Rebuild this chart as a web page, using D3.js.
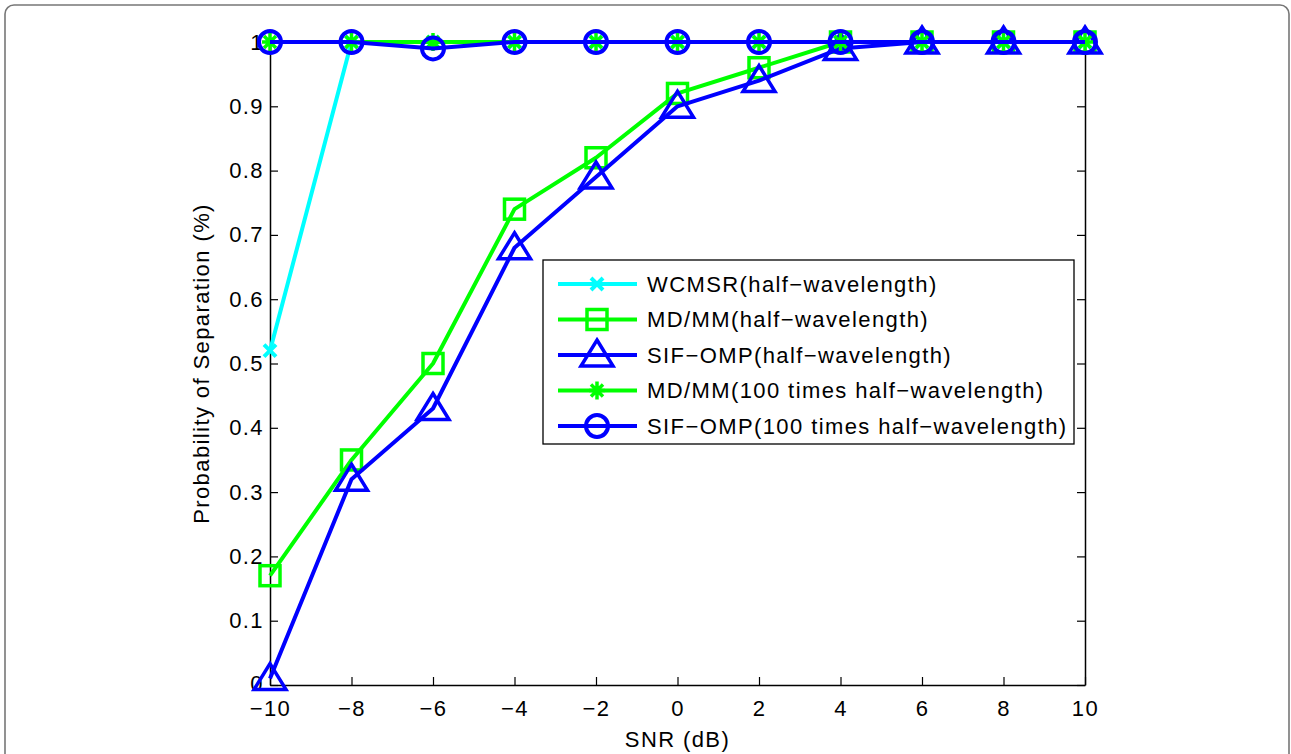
<!DOCTYPE html>
<html lang="en">
<head>
<meta charset="UTF-8">
<title>Probability of Separation</title>
<script src="https://cdn.jsdelivr.net/npm/d3@7"></script>
<style>
  body { margin: 0; background: #fff; }
  text { font-family: "Liberation Sans", Arial, sans-serif; fill: #000; letter-spacing: 1.4px; }
</style>
</head>
<body>
<script>
// data
const snr = [-10, -8, -6, -4, -2, 0, 2, 4, 6, 8, 10];
const wcmsrHalf = [0.52, 1, 1, 1, 1, 1, 1, 1, 1, 1, 1];
const mdmmHalf = [0.17, 0.35, 0.50, 0.74, 0.82, 0.92, 0.96, 1, 1, 1, 1];
const sifHalf = [0.01, 0.32, 0.43, 0.68, 0.79, 0.90, 0.94, 0.99, 1, 1, 1];
const mdmm100 = [1, 1, 1, 1, 1, 1, 1, 1, 1, 1, 1];
const sif100 = [1, 1, 0.99, 1, 1, 1, 1, 1, 1, 1, 1];
const xTicks = [-10, -8, -6, -4, -2, 0, 2, 4, 6, 8, 10];
const yTicks = [0, 0.1, 0.2, 0.3, 0.4, 0.5, 0.6, 0.7, 0.8, 0.9, 1];

const series = [
  { name: "WCMSR(half\u2212wavelength)", values: wcmsrHalf, color: "#00ffff", marker: "x" },
  { name: "MD/MM(half\u2212wavelength)", values: mdmmHalf, color: "#00ff00", marker: "square" },
  { name: "SIF\u2212OMP(half\u2212wavelength)", values: sifHalf, color: "#0000ff", marker: "triangle" },
  { name: "MD/MM(100 times half\u2212wavelength)", values: mdmm100, color: "#00ff00", marker: "star" },
  { name: "SIF\u2212OMP(100 times half\u2212wavelength)", values: sif100, color: "#0000ff", marker: "circle" }
];

const W = 1291, H = 754;
const margin = { left: 270, right: 206, top: 42, bottom: 69 };

const svg = d3.select("body").append("svg")
  .attr("width", W).attr("height", H);

// outer rounded frame of the figure
svg.append("rect")
  .attr("x", 5).attr("y", 5)
  .attr("width", W - 7).attr("height", H + 40)
  .attr("rx", 9)
  .attr("fill", "none").attr("stroke", "#777").attr("stroke-width", 1.6);

const x = d3.scaleLinear().domain([-10, 10]).range([margin.left, W - margin.right]);
const y = d3.scaleLinear().domain([0, 1]).range([H - margin.bottom, margin.top]);

const g = svg.append("g");

// axes: ticks inward, box all round
const tickLen = 8;
g.append("g")
  .attr("transform", `translate(0,${y(0)})`)
  .call(d3.axisBottom(x).tickValues(xTicks).tickSizeInner(-tickLen).tickSizeOuter(0)
    .tickPadding(15).tickFormat(d => d < 0 ? "\u2212" + Math.abs(d) : d))
  .call(a => a.selectAll("text").style("font-size", "22px"));
g.append("g")
  .attr("transform", `translate(0,${y(1)})`)
  .call(d3.axisTop(x).tickValues(xTicks).tickSizeInner(-tickLen).tickSizeOuter(0).tickFormat(""));
g.append("g")
  .attr("transform", `translate(${x(-10)},0)`)
  .call(d3.axisLeft(y).tickValues(yTicks).tickSizeInner(-tickLen).tickSizeOuter(0)
    .tickPadding(6).tickFormat(d => d === 0 || d === 1 ? d3.format("d")(d) : d3.format(".1f")(d)))
  .call(a => a.selectAll("text").style("font-size", "22px"))
  .call(a => a.selectAll(".tick").filter(d => d === 0).select("text").attr("dy", "0.26em"));
g.append("g")
  .attr("transform", `translate(${x(10)},0)`)
  .call(d3.axisRight(y).tickValues(yTicks).tickSizeInner(-tickLen).tickSizeOuter(0).tickFormat(""));

g.selectAll(".domain").attr("stroke", "#000").attr("stroke-width", 1.5);
g.selectAll(".tick line").attr("stroke", "#000").attr("stroke-width", 1.2);

// axis titles
svg.append("text")
  .attr("x", x(0)).attr("y", 747)
  .attr("text-anchor", "middle").style("font-size", "22px")
  .text("SNR (dB)");
svg.append("text")
  .attr("transform", `translate(209,${(y(0) + y(1)) / 2}) rotate(-90)`)
  .attr("text-anchor", "middle").style("font-size", "22px")
  .text("Probability of Separation (%)");

// marker drawing
function drawMarker(sel, type, color) {
  if (type === "square") {
    sel.append("rect").attr("x", -10).attr("y", -10).attr("width", 20).attr("height", 20)
      .attr("fill", "none").attr("stroke", color).attr("stroke-width", 3.5);
  } else if (type === "triangle") {
    sel.append("path").attr("d", "M0,-15 L16,11 L-16,11 Z")
      .attr("fill", "none").attr("stroke", color).attr("stroke-width", 3.5).attr("stroke-linejoin", "miter");
  } else if (type === "circle") {
    sel.append("circle").attr("r", 11)
      .attr("fill", "none").attr("stroke", color).attr("stroke-width", 4);
  } else if (type === "x") {
    sel.append("path").attr("d", "M-6,-6 L6,6 M-6,6 L6,-6")
      .attr("stroke", color).attr("stroke-width", 4);
  } else if (type === "star") {
    sel.append("path").attr("d", "M-8,0 L8,0 M0,-9 L0,9 M-6,-6 L6,6 M-6,6 L6,-6")
      .attr("stroke", color).attr("stroke-width", 3.5);
  }
}

const line = d3.line().x((d, i) => x(snr[i])).y(d => y(d));

series.forEach(s => {
  const sg = g.append("g");
  sg.append("path").datum(s.values)
    .attr("d", line)
    .attr("fill", "none").attr("stroke", s.color).attr("stroke-width", 4)
    .attr("stroke-linejoin", "round");
  sg.selectAll(".m").data(s.values).enter().append("g")
    .attr("transform", (d, i) => `translate(${x(snr[i])},${y(d)})`)
    .each(function () { drawMarker(d3.select(this), s.marker, s.color); });
});

// legend
const lg = svg.append("g");
lg.append("rect")
  .attr("x", 543).attr("y", 260).attr("width", 531).attr("height", 184)
  .attr("fill", "#fff").attr("stroke", "#000").attr("stroke-width", 1.3);
series.forEach((s, i) => {
  const yy = 284 + i * 35.5;
  lg.append("line").attr("x1", 558).attr("x2", 637).attr("y1", yy).attr("y2", yy)
    .attr("stroke", s.color).attr("stroke-width", 4);
  const mg = lg.append("g").attr("transform", `translate(597,${yy})`);
  drawMarker(mg, s.marker, s.color);
  lg.append("text").attr("x", 647).attr("y", yy).attr("dy", "0.36em")
    .style("font-size", "22px").text(s.name);
});
</script>
</body>
</html>
